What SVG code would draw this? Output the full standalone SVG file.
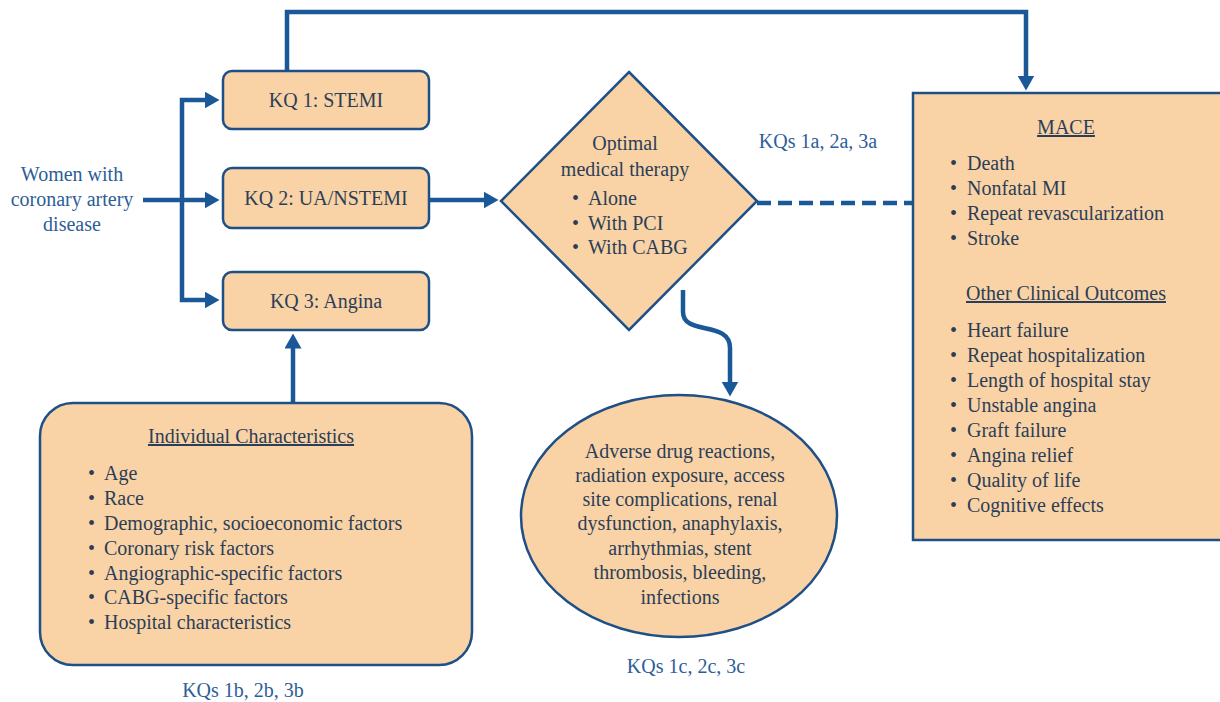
<svg xmlns="http://www.w3.org/2000/svg" width="1220" height="702" viewBox="0 0 1220 702">
<style>
.box{fill:#F9D3A6;stroke:#1E4F86;stroke-width:2.5}
.t{font-family:'Liberation Serif','Tinos','DejaVu Serif',serif;font-size:20px;fill:#2C3E57}
.lbl{font-family:'Liberation Serif','Tinos','DejaVu Serif',serif;font-size:20px;fill:#2D5E97}
.c{text-anchor:middle}
.u{text-decoration:underline}
.ln{fill:none;stroke:#1B5898;stroke-width:4.5}
</style>
<defs>
<marker id="ah" viewBox="0 0 15 17" refX="0.5" refY="8.5" markerWidth="15" markerHeight="17" markerUnits="userSpaceOnUse" orient="auto">
<path d="M0,0 L15,8.5 L0,17 z" fill="#1B5898"/>
</marker>
</defs>
<rect width="1220" height="702" fill="#fff"/>

<g id="connectors">
<path class="ln" d="M143,200 H205" marker-end="url(#ah)"/>
<path class="ln" d="M182,200 V100 H205" marker-end="url(#ah)"/>
<path class="ln" d="M182,200 V300 H205" marker-end="url(#ah)"/>
<path class="ln" d="M430,200 H484" marker-end="url(#ah)"/>
<path class="ln" d="M287,71 V12 H1026 V76" marker-end="url(#ah)"/>
<path class="ln" d="M293,403 V348" marker-end="url(#ah)"/>
<path class="ln" d="M683,290 V312 C683,336 730,320 730,348 V382" marker-end="url(#ah)"/>
<path class="ln" d="M757,203 H913" stroke-dasharray="14 7"/>
</g>

<g id="women">
<text class="lbl c" x="72" y="181" font-family="Liberation Serif, serif">Women with</text>
<text class="lbl c" x="72" y="206" font-family="Liberation Serif, serif">coronary artery</text>
<text class="lbl c" x="72" y="231" font-family="Liberation Serif, serif">disease</text>
</g>

<g id="kq1">
<rect class="box" x="223" y="71" width="206" height="58" rx="9"/>
<text class="t c" x="326" y="107">KQ 1: STEMI</text>
</g>
<g id="kq2">
<rect class="box" x="223" y="168" width="206" height="60" rx="9"/>
<text class="t c" x="326" y="205">KQ 2: UA/NSTEMI</text>
</g>
<g id="kq3">
<rect class="box" x="223" y="272" width="206" height="58" rx="9"/>
<text class="t c" x="326" y="308">KQ 3: Angina</text>
</g>

<g id="therapy">
<path class="box" d="M629,72 L757,201 L629,330 L501,201 z"/>
<text class="t c" x="625" y="150">Optimal</text>
<text class="t c" x="625" y="176">medical therapy</text>
<text class="t"><tspan x="572" y="205">•</tspan><tspan x="588">Alone</tspan></text>
<text class="t"><tspan x="572" y="230">•</tspan><tspan x="588">With PCI</tspan></text>
<text class="t"><tspan x="572" y="254">•</tspan><tspan x="588">With CABG</tspan></text>
</g>

<g id="kq-a-label">
<text class="lbl c" x="818" y="148">KQs 1a, 2a, 3a</text>
</g>

<g id="outcomes">
<rect class="box" x="913" y="93" width="320" height="447"/>
<text class="t c u" x="1066" y="134">MACE</text>
<text class="t"><tspan x="950" y="170">•</tspan><tspan x="967">Death</tspan></text>
<text class="t"><tspan x="950" y="195">•</tspan><tspan x="967">Nonfatal MI</tspan></text>
<text class="t"><tspan x="950" y="220">•</tspan><tspan x="967">Repeat revascularization</tspan></text>
<text class="t"><tspan x="950" y="245">•</tspan><tspan x="967">Stroke</tspan></text>
<text class="t c u" x="1066" y="300">Other Clinical Outcomes</text>
<text class="t"><tspan x="950" y="337">•</tspan><tspan x="967">Heart failure</tspan></text>
<text class="t"><tspan x="950" y="362">•</tspan><tspan x="967">Repeat hospitalization</tspan></text>
<text class="t"><tspan x="950" y="387">•</tspan><tspan x="967">Length of hospital stay</tspan></text>
<text class="t"><tspan x="950" y="412">•</tspan><tspan x="967">Unstable angina</tspan></text>
<text class="t"><tspan x="950" y="437">•</tspan><tspan x="967">Graft failure</tspan></text>
<text class="t"><tspan x="950" y="462">•</tspan><tspan x="967">Angina relief</tspan></text>
<text class="t"><tspan x="950" y="487">•</tspan><tspan x="967">Quality of life</tspan></text>
<text class="t"><tspan x="950" y="512">•</tspan><tspan x="967">Cognitive effects</tspan></text>
</g>

<g id="individual">
<rect class="box" x="40" y="403" width="432" height="262" rx="33"/>
<text class="t c u" x="251" y="443">Individual Characteristics</text>
<text class="t"><tspan x="88" y="480">•</tspan><tspan x="104">Age</tspan></text>
<text class="t"><tspan x="88" y="505">•</tspan><tspan x="104">Race</tspan></text>
<text class="t"><tspan x="88" y="530">•</tspan><tspan x="104">Demographic, socioeconomic factors</tspan></text>
<text class="t"><tspan x="88" y="555">•</tspan><tspan x="104">Coronary risk factors</tspan></text>
<text class="t"><tspan x="88" y="580">•</tspan><tspan x="104">Angiographic-specific factors</tspan></text>
<text class="t"><tspan x="88" y="604">•</tspan><tspan x="104">CABG-specific factors</tspan></text>
<text class="t"><tspan x="88" y="629">•</tspan><tspan x="104">Hospital characteristics</tspan></text>
</g>
<g id="kq-b-label">
<text class="lbl c" x="243" y="697">KQs 1b, 2b, 3b</text>
</g>

<g id="adverse">
<ellipse class="box" cx="679" cy="516" rx="158" ry="121"/>
<text class="t c" x="680" y="458">Adverse drug reactions,</text>
<text class="t c" x="680" y="482">radiation exposure, access</text>
<text class="t c" x="680" y="506">site complications, renal</text>
<text class="t c" x="680" y="530">dysfunction, anaphylaxis,</text>
<text class="t c" x="680" y="555">arrhythmias, stent</text>
<text class="t c" x="680" y="579">thrombosis, bleeding,</text>
<text class="t c" x="680" y="604">infections</text>
</g>
<g id="kq-c-label">
<text class="lbl c" x="686" y="673">KQs 1c, 2c, 3c</text>
</g>
</svg>
